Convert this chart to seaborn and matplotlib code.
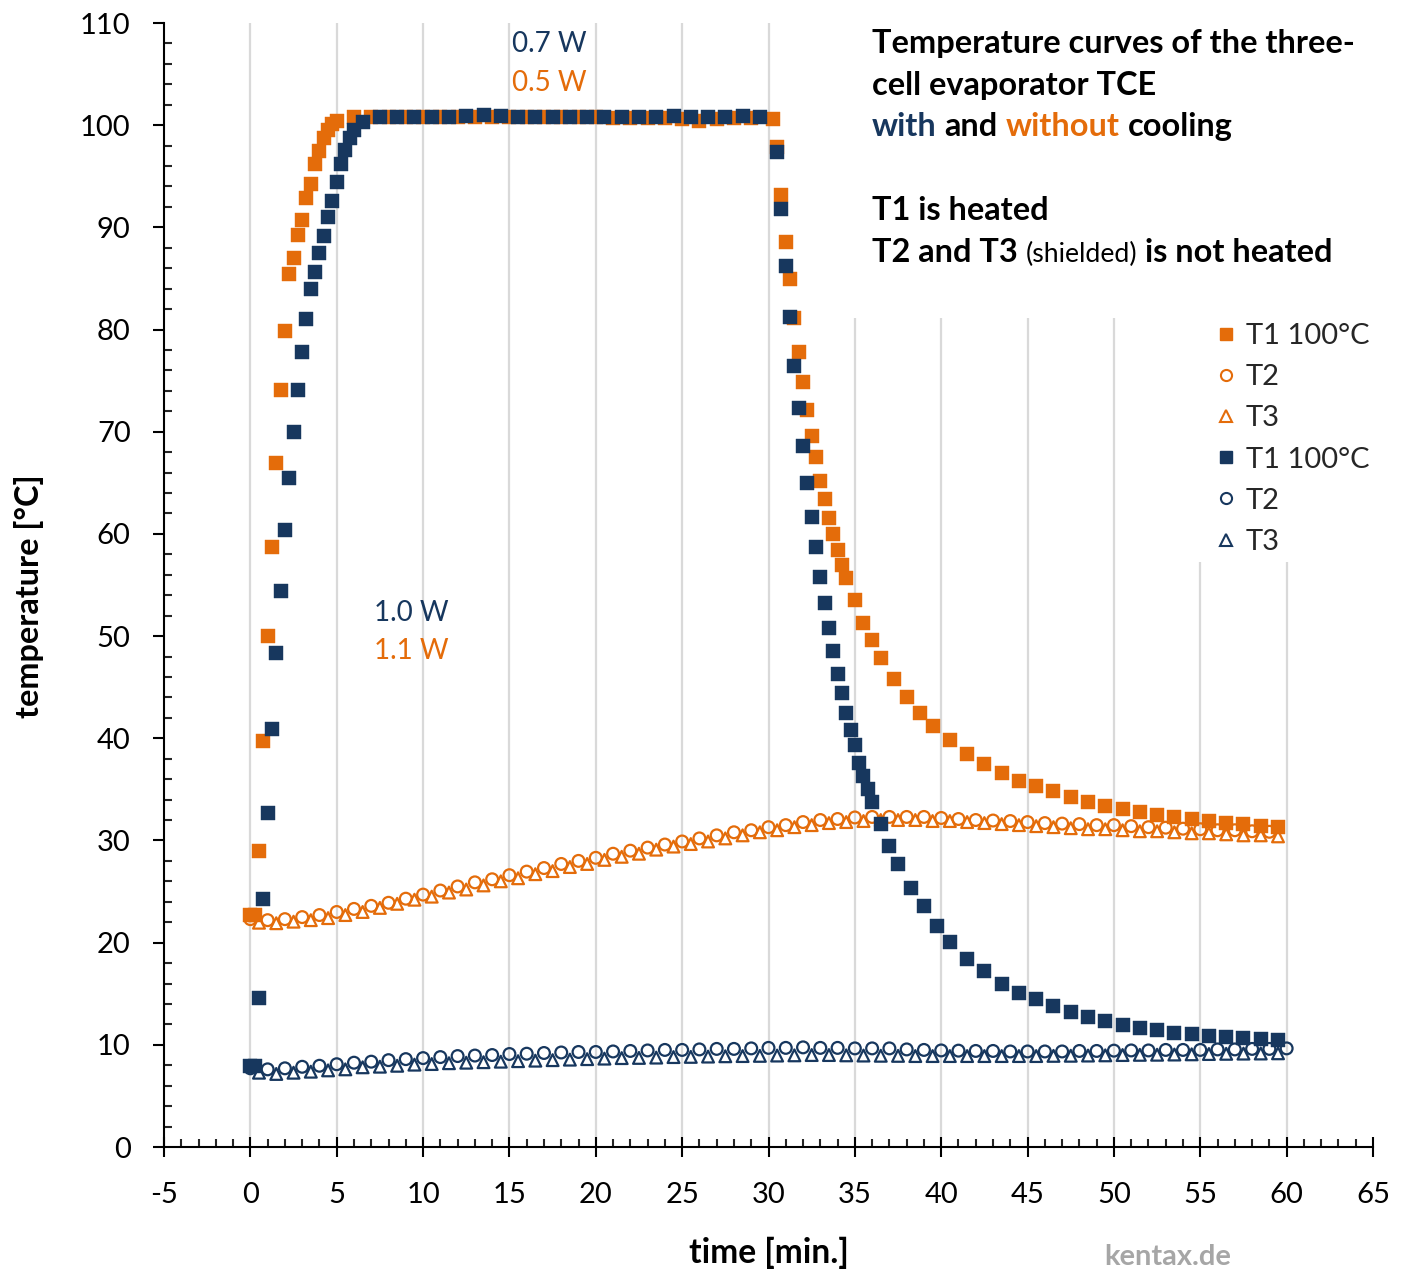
import numpy as np
import pandas as pd
import matplotlib
matplotlib.use("Agg")
import matplotlib.pyplot as plt
import seaborn as sns
from matplotlib.lines import Line2D
from matplotlib.patches import Rectangle
from matplotlib.ticker import MultipleLocator

# ---------------- data ----------------
# T1 without cooling (orange)
t1_wo_time = [0, 0.25, 0.5, 0.75, 1.0, 1.25, 1.5, 1.75, 2.0, 2.25, 2.5, 2.75, 3.0, 3.25, 3.5, 3.75,
              4.0, 4.25, 4.5, 4.75, 5.0,
              6, 7, 8, 9, 10, 11, 12, 13, 14, 15, 16, 17, 18, 19, 20, 21, 22, 23, 24, 25, 26, 27, 28, 29,
              30.25, 30.5, 30.75, 31.0, 31.25, 31.5, 31.75, 32.0, 32.25, 32.5, 32.75, 33.0, 33.25, 33.5,
              33.75, 34.0, 34.25, 34.5, 35.0, 35.5, 36.0, 36.5, 37.25, 38.0, 38.75, 39.5,
              40.5, 41.5, 42.5, 43.5, 44.5, 45.5, 46.5, 47.5, 48.5, 49.5, 50.5, 51.5, 52.5, 53.5,
              54.5, 55.5, 56.5, 57.5, 58.5, 59.5]
t1_wo_temp = [22.7, 22.7, 29.0, 39.7, 50.0, 58.7, 66.9, 74.1, 79.9, 85.4, 87.0, 89.3, 90.7, 92.9, 94.2, 96.2,
              97.5, 98.7, 99.5, 100.1, 100.4,
              100.8, 100.8, 100.8, 100.8, 100.8, 100.8, 100.8, 100.8, 100.8, 100.8, 100.8, 100.8, 100.8,
              100.8, 100.8, 100.7, 100.7, 100.7, 100.7, 100.6, 100.4, 100.6, 100.7, 100.7,
              100.6, 97.9, 93.2, 88.6, 84.9, 81.1, 77.8, 74.9, 72.1, 69.6, 67.5, 65.2, 63.4, 61.6,
              60.0, 58.4, 57.0, 55.7, 53.5, 51.3, 49.6, 47.9, 45.8, 44.0, 42.5, 41.2,
              39.8, 38.5, 37.5, 36.6, 35.8, 35.3, 34.8, 34.3, 33.8, 33.4, 33.1, 32.8, 32.5, 32.3,
              32.1, 31.9, 31.7, 31.6, 31.4, 31.35]

# T2 / T3 without cooling (orange)
t2_wo_time = np.arange(0, 60, 1.0)
t2_wo_temp = [22.3, 22.2, 22.3, 22.5, 22.7, 23.0, 23.3, 23.6, 23.9, 24.3, 24.7, 25.1, 25.5, 25.9, 26.2,
              26.6, 26.95, 27.3, 27.7, 28.0, 28.3, 28.7, 29.0, 29.3, 29.6, 29.9, 30.2, 30.5, 30.8, 31.0,
              31.3, 31.5, 31.8, 32.0, 32.1, 32.25, 32.3, 32.3, 32.3, 32.3, 32.2, 32.1, 32.0, 31.95, 31.9,
              31.8, 31.7, 31.65, 31.6, 31.5, 31.5, 31.4, 31.3, 31.25, 31.15, 31.1, 31.0, 31.0, 30.9, 30.85]
t3_wo_time = np.arange(0.5, 60, 1.0)
t3_wo_temp = [21.95, 21.9, 22.05, 22.2, 22.4, 22.7, 23.0, 23.4, 23.8, 24.2, 24.5, 24.9, 25.2, 25.6, 26.0,
              26.3, 26.7, 27.0, 27.4, 27.7, 28.1, 28.4, 28.7, 29.1, 29.4, 29.65, 29.9, 30.2, 30.5, 30.8,
              31.0, 31.3, 31.5, 31.7, 31.8, 31.9, 32.0, 32.0, 32.0, 31.9, 31.9, 31.8, 31.7, 31.6, 31.5,
              31.4, 31.3, 31.2, 31.1, 31.1, 31.0, 30.9, 30.9, 30.8, 30.7, 30.7, 30.6, 30.5, 30.5, 30.4]

# T1 with cooling (navy)
t1_w_time = [0, 0.25, 0.5, 0.75, 1.0, 1.25, 1.5, 1.75, 2.0, 2.25, 2.5, 2.75, 3.0, 3.25, 3.5, 3.75,
             4.0, 4.25, 4.5, 4.75, 5.0, 5.25, 5.5, 5.75, 6.0, 6.5,
             7.5, 8.5, 9.5, 10.5, 11.5, 12.5, 13.5, 14.5, 15.5, 16.5, 17.5, 18.5, 19.5, 20.5, 21.5,
             22.5, 23.5, 24.5, 25.5, 26.5, 27.5, 28.5, 29.5,
             30.5, 30.75, 31.0, 31.25, 31.5, 31.75, 32.0, 32.25, 32.5, 32.75, 33.0, 33.25, 33.5, 33.75,
             34.0, 34.25, 34.5, 34.75, 35.0, 35.25, 35.5, 35.75, 36.0,
             36.5, 37.0, 37.5, 38.25, 39.0, 39.75, 40.5, 41.5, 42.5, 43.5, 44.5, 45.5, 46.5, 47.5,
             48.5, 49.5, 50.5, 51.5, 52.5, 53.5, 54.5, 55.5, 56.5, 57.5, 58.5, 59.5]
t1_w_temp = [7.9, 7.9, 14.6, 24.3, 32.7, 40.9, 48.3, 54.4, 60.4, 65.5, 70.0, 74.1, 77.8, 81.0, 84.0, 85.6,
             87.5, 89.2, 91.0, 92.6, 94.4, 96.2, 97.6, 98.7, 99.5, 100.3,
             100.8, 100.8, 100.8, 100.8, 100.8, 100.9, 101.0, 100.9, 100.8, 100.8, 100.8, 100.8, 100.8,
             100.8, 100.8, 100.8, 100.8, 100.85, 100.8, 100.8, 100.8, 100.85, 100.8,
             97.4, 91.8, 86.2, 81.2, 76.4, 72.3, 68.6, 65.0, 61.7, 58.7, 55.8, 53.2, 50.8, 48.5,
             46.3, 44.4, 42.5, 40.8, 39.3, 37.6, 36.3, 35.0, 33.8,
             31.6, 29.5, 27.7, 25.3, 23.6, 21.6, 20.1, 18.4, 17.2, 16.0, 15.1, 14.5, 13.8, 13.2,
             12.7, 12.3, 11.9, 11.6, 11.45, 11.2, 11.05, 10.9, 10.8, 10.7, 10.6, 10.5]

# T2 / T3 with cooling (navy)
t2_w_time = np.arange(0, 61, 1.0)
t2_w_temp = [7.7, 7.6, 7.7, 7.85, 7.95, 8.1, 8.25, 8.35, 8.5, 8.6, 8.7, 8.8, 8.9, 8.95, 9.0, 9.1, 9.13,
             9.2, 9.25, 9.3, 9.3, 9.35, 9.4, 9.45, 9.5, 9.5, 9.55, 9.6, 9.6, 9.65, 9.7, 9.7, 9.75, 9.7,
             9.7, 9.65, 9.65, 9.65, 9.55, 9.5, 9.45, 9.43, 9.4, 9.4, 9.35, 9.35, 9.35, 9.35, 9.4, 9.4,
             9.43, 9.45, 9.45, 9.5, 9.5, 9.5, 9.55, 9.55, 9.6, 9.6, 9.65]
t3_w_time = np.arange(0.5, 60, 1.0)
t3_w_temp = [7.27, 7.15, 7.27, 7.37, 7.5, 7.6, 7.8, 7.86, 7.95, 8.06, 8.12, 8.2, 8.25, 8.3, 8.35, 8.4,
             8.45, 8.5, 8.55, 8.6, 8.65, 8.7, 8.72, 8.75, 8.8, 8.82, 8.85, 8.88, 8.9, 8.92, 8.95, 8.97,
             9.0, 9.0, 8.97, 8.95, 8.93, 8.92, 8.9, 8.9, 8.9, 8.9, 8.9, 8.9, 8.9, 8.9, 8.92, 8.93, 8.95,
             8.97, 9.0, 9.02, 9.03, 9.05, 9.07, 9.1, 9.12, 9.14, 9.15, 9.17]

legend_labels = ["T1 100°C", "T2", "T3", "T1 100°C", "T2", "T3"]
x_ticks = list(range(-5, 66, 5))
y_ticks = list(range(0, 111, 10))

# ---------------- style ----------------
ORANGE = "#E46C0A"
NAVY = "#17375E"
GRID = "#D9D9D9"

sns.set_style("ticks")
plt.rcParams["font.family"] = ["Lato", "DejaVu Sans"]
plt.rcParams["axes.axisbelow"] = True
plt.rcParams["axes.unicode_minus"] = False

W, H = 1407, 1271
fig = plt.figure(figsize=(W / 100, H / 100), dpi=100, facecolor="white")
ax = fig.add_axes([164 / W, 1 - 1147 / H, (1373 - 164) / W, (1147 - 23) / H])
ax.set_facecolor("white")


def squares(x, y, c):
    sns.scatterplot(x=x, y=y, ax=ax, marker="s", s=88, color=c, edgecolor=c,
                    linewidth=0.3, zorder=3, legend=False)


def hollow(x, y, c, m):
    sns.scatterplot(x=x, y=y, ax=ax, marker=m, s=72, facecolor="none", edgecolor=c,
                    linewidth=1.6, zorder=3, legend=False)


squares(t1_wo_time, t1_wo_temp, ORANGE)
hollow(t2_wo_time, t2_wo_temp, ORANGE, "o")
hollow(t3_wo_time, t3_wo_temp, ORANGE, "^")
squares(t1_w_time, t1_w_temp, NAVY)
hollow(t2_w_time, t2_w_temp, NAVY, "o")
hollow(t3_w_time, t3_w_temp, NAVY, "^")

ax.set_xlim(-5, 65)
ax.set_ylim(0, 110)
ax.set_xlabel("")
ax.set_ylabel("")
ax.xaxis.set_major_locator(MultipleLocator(5))
ax.xaxis.set_minor_locator(MultipleLocator(1))
ax.yaxis.set_major_locator(MultipleLocator(10))
ax.yaxis.set_minor_locator(MultipleLocator(2))
ax.set_xticks(x_ticks)
ax.set_yticks(y_ticks)

for s in ["top", "right"]:
    ax.spines[s].set_visible(False)
for s in ["left", "bottom"]:
    ax.spines[s].set_linewidth(1.5)
    ax.spines[s].set_color("black")

ax.tick_params(axis="x", which="major", direction="inout", length=14, width=1.5,
               labelsize=21, pad=18, colors="black")
ax.tick_params(axis="x", which="minor", direction="in", length=5.5, width=1.5)
ax.tick_params(axis="y", which="major", direction="out", length=8, width=1.5,
               labelsize=21, pad=16, colors="black")
ax.tick_params(axis="y", which="minor", direction="in", length=6, width=1.5)

ax.xaxis.grid(True, which="major", color=GRID, linewidth=1.6)
ax.yaxis.grid(False)
for tk, loc in zip(ax.xaxis.get_major_ticks(), ax.get_xticks()):
    if loc < 0 or loc > 60:
        tk.gridline.set_visible(False)

# white backgrounds behind the text block and legend (hide gridlines there)
def px_rect(x0, y0, x1, y1):
    fx0 = (x0 - 164) / (1373 - 164)
    fx1 = (x1 - 164) / (1373 - 164)
    fy0 = (1147 - y1) / (1147 - 23)
    fy1 = (1147 - y0) / (1147 - 23)
    ax.add_patch(Rectangle((fx0, fy0), fx1 - fx0, fy1 - fy0, transform=ax.transAxes,
                           facecolor="white", edgecolor="none", zorder=0.8))

px_rect(840, 20, 1375, 318)
px_rect(1190, 318, 1375, 562)

# legend
handles = [
    Line2D([], [], ls="none", marker="s", ms=8, mfc=ORANGE, mec=ORANGE),
    Line2D([], [], ls="none", marker="o", ms=8, mfc="none", mec=ORANGE, mew=1.5),
    Line2D([], [], ls="none", marker="^", ms=8, mfc="none", mec=ORANGE, mew=1.5),
    Line2D([], [], ls="none", marker="s", ms=8, mfc=NAVY, mec=NAVY),
    Line2D([], [], ls="none", marker="o", ms=8, mfc="none", mec=NAVY, mew=1.5),
    Line2D([], [], ls="none", marker="^", ms=8, mfc="none", mec=NAVY, mew=1.5),
]
leg = ax.legend(handles, legend_labels, loc="upper left",
                bbox_to_anchor=(1213 / W, 1 - 323 / H), bbox_transform=fig.transFigure,
                frameon=False, fontsize=21, handlelength=0.9, handletextpad=0.22,
                labelspacing=0.52, borderpad=0, borderaxespad=0)

# ---------------- text ----------------
fig.canvas.draw()
r = fig.canvas.get_renderer()


def text_w(s, **kw):
    t = fig.text(0, 0, s, **kw)
    w = t.get_window_extent(renderer=r).width
    t.remove()
    return w


# title block, fitted to the reference width of the first line
base_kw = dict(fontweight="bold", color="black")
fs = 20.0
w0 = text_w("Temperature curves of the three-", fontsize=fs, **base_kw)
fs_title = fs * 482.0 / w0


def place_line(parts, x_px, base_px):
    x = x_px
    for s, kw in parts:
        if s == " ":
            x += text_w("x x", **kw) - text_w("xx", **kw)
            continue
        t = fig.text(x / W, 1 - base_px / H, s, ha="left", va="baseline", **kw)
        x += t.get_window_extent(renderer=r).width


tk_black = dict(fontsize=fs_title, fontweight="bold", color="black")
tk_navy = dict(fontsize=fs_title, fontweight="bold", color=NAVY)
tk_orange = dict(fontsize=fs_title, fontweight="bold", color=ORANGE)
tk_small = dict(fontsize=fs_title * 0.82, fontweight="normal", color="black")

place_line([("Temperature curves of the three-", tk_black)], 872, 53)
place_line([("cell evaporator TCE", tk_black)], 872, 94.5)
place_line([("with", tk_navy), (" ", tk_black), ("and", tk_black), (" ", tk_black),
            ("without", tk_orange), (" ", tk_black), ("cooling", tk_black)], 872, 136)
place_line([("T1 is heated", tk_black)], 872, 220.5)
place_line([("T2 and T3", tk_black), (" ", tk_black), ("(shielded)", tk_small), (" ", tk_black),
            ("is not heated", tk_black)], 872, 262.5)

# power annotations
ann_fs = 20
fig.text(512 / W, 1 - 52 / H, "0.7 W", color=NAVY, fontsize=ann_fs, ha="left", va="baseline")
fig.text(512 / W, 1 - 91 / H, "0.5 W", color=ORANGE, fontsize=ann_fs, ha="left", va="baseline")
fig.text(374 / W, 1 - 621 / H, "1.0 W", color=NAVY, fontsize=ann_fs, ha="left", va="baseline")
fig.text(374 / W, 1 - 659 / H, "1.1 W", color=ORANGE, fontsize=ann_fs, ha="left", va="baseline")

# axis labels
xl_w = text_w("time [min.]", fontsize=20, fontweight="bold")
fig.text(769 / W, 1 - 1253 / H, "time [min.]", fontsize=20 * 160 / xl_w, fontweight="bold",
         ha="center", va="center", color="black")
yl_w = text_w("temperature [°C]", fontsize=20, fontweight="bold")
fig.text(29 / W, 1 - 596 / H, "temperature [°C]", fontsize=20 * 243 / yl_w, fontweight="bold",
         rotation=90, ha="center", va="center", color="black")

kx_w = text_w("kentax.de", fontsize=20, fontweight="bold")
fig.text(1168 / W, 1 - 1257 / H, "kentax.de", fontsize=20 * 127 / kx_w, fontweight="bold",
         ha="center", va="center", color="#A6A6A6")

fig.savefig("out.png", dpi=100, facecolor="white")
